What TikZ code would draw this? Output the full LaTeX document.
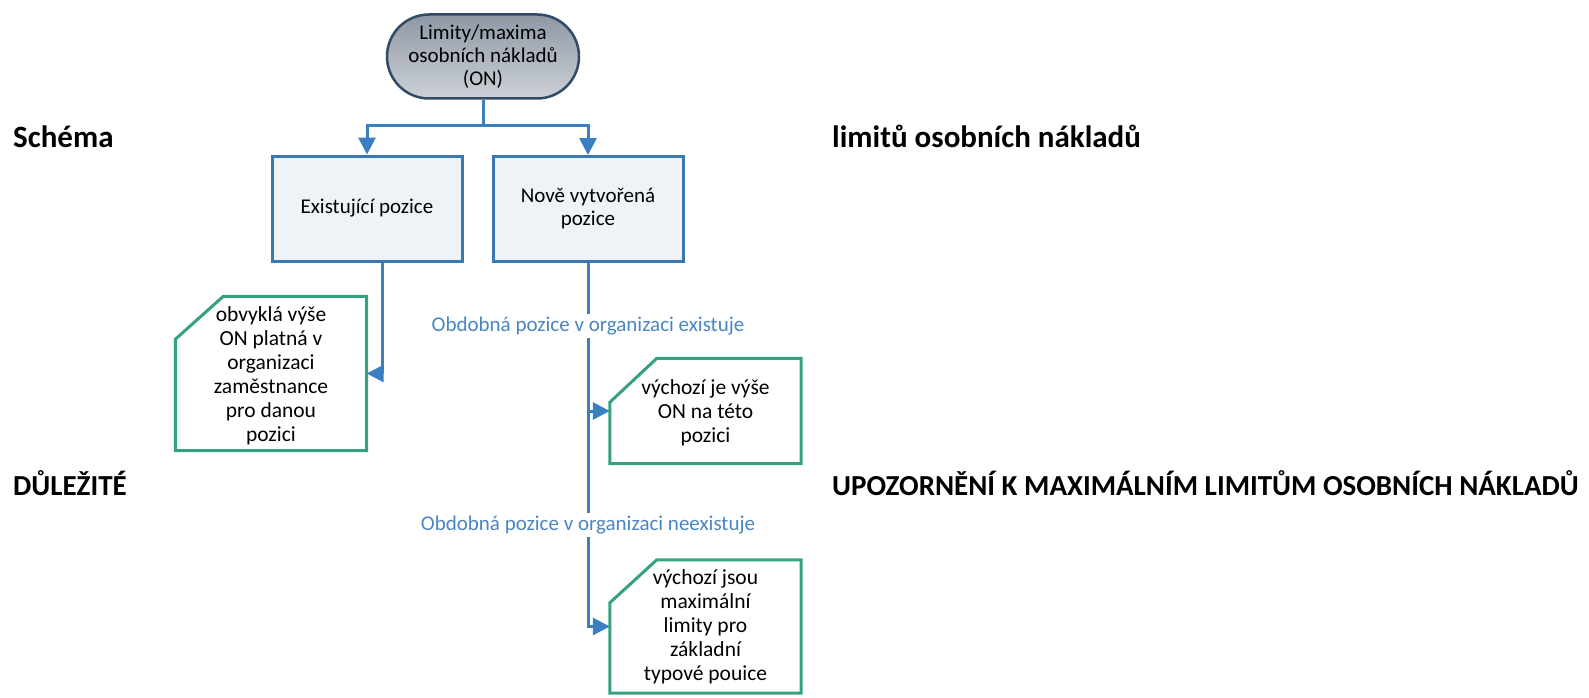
\documentclass[tikz,border=0pt]{standalone}
\usepackage{fontspec}
\setmainfont{Carlito}
\usetikzlibrary{arrows.meta,calc}
\definecolor{conn}{HTML}{3A7FC1}
\definecolor{boxbd}{HTML}{3C78B0}
\definecolor{boxfill}{HTML}{EFF3F8}
\definecolor{notebd}{HTML}{35A37A}
\definecolor{termbd}{HTML}{2F4B68}
\definecolor{labelc}{HTML}{4A86C4}
\definecolor{termtop}{HTML}{8E98A4}
\definecolor{termbot}{HTML}{CDD1D7}
\begin{document}
\begin{tikzpicture}[x=1pt,y=-1pt,
  term/.style={draw=termbd, line width=2.5pt, rounded corners=42pt,
    minimum width=192pt, minimum height=84pt, top color=termtop, bottom color=termbot,
    align=center, inner sep=0pt, font=\fontsize{21}{23}\selectfont},
  procbox/.style={draw=boxbd, fill=boxfill, line width=3pt, minimum width=190pt,
    minimum height=105pt, align=center, inner sep=0pt, font=\fontsize{21}{23}\selectfont},
  notebox/.style={minimum width=191pt, align=center, inner sep=0pt,
    font=\fontsize{21.5}{24}\selectfont},
  noteline/.style={draw=notebd, line width=3pt, fill=white, line join=miter},
  connline/.style={draw=conn, line width=3pt},
  arr/.style={connline, -{Triangle[width=17pt,length=17pt]}},
  lab/.style={fill=white, text=labelc, inner xsep=1pt, inner ysep=3pt,
    font=\fontsize{21}{23}\selectfont},
  head/.style={anchor=base west, inner sep=0pt, font=\fontsize{31}{35}\bfseries\selectfont},
  capshead/.style={head, font=\fontsize{29}{33}\bfseries\selectfont}
]
\useasboundingbox (0,0) rectangle (1589,698);

% headings
\node[head] (h1) at (13,147) {Schéma};
\node[head] (h2) at (832,147) {limitů osobních nákladů};
\node[capshead] (h3) at (13,495) {DŮLEŽITÉ};
\node[capshead] (h4) at (832,495) {UPOZORNĚNÍ K MAXIMÁLNÍM LIMITŮM OSOBNÍCH NÁKLADŮ};

% terminator
\node[term] (t) at (483,56.5) {Limity/maxima\\osobních nákladů\\(ON)};

% process boxes
\node[procbox] (b1) at (367,208.5) {Existující pozice};
\node[procbox] (b2) at (588,209) {Nově vytvořená\\pozice};

% notes (chamfered outlines)
\node[notebox, minimum height=154pt] (n1) at (271,373.5) {};
\draw[noteline] ([xshift=48pt]n1.north west) -- (n1.north east) -- (n1.south east)
  -- (n1.south west) -- ([yshift=-43pt]n1.north west) -- cycle;
\node[notebox] at ([yshift=-2pt]n1.center) {obvyklá výše\\ON platná v\\organizaci\\zaměstnance\\pro danou\\pozici};

\node[notebox, minimum height=105pt] (n2) at (705.5,411) {};
\draw[noteline] ([xshift=47pt]n2.north west) -- (n2.north east) -- (n2.south east)
  -- (n2.south west) -- ([yshift=-44pt]n2.north west) -- cycle;
\node[notebox] at ([yshift=-2pt]n2.center) {výchozí je výše\\ON na této\\pozici};

\node[notebox, minimum height=133pt] (n3) at (705.5,626.5) {};
\draw[noteline] ([xshift=47pt]n3.north west) -- (n3.north east) -- (n3.south east)
  -- (n3.south west) -- ([yshift=-43pt]n3.north west) -- cycle;
\node[notebox] at (n3.center) {výchozí jsou\\maximální\\limity pro\\základní\\typové pouice};

% connectors
\coordinate (br) at (t.south |- 0,126);
\draw[connline] (t.south) -- (br);
\draw[arr] (br) -| (b1.north);
\draw[arr] (br) -| (b2.north);
\draw[arr] ([xshift=15pt]b1.south) |- (n1.east);
\draw[arr] (b2.south) |- (n3.west);
\draw[arr] (b2.south |- n2.west) -- (n2.west);

% branch labels
\node[lab] (l1) at (b2.south |- 0,326) {Obdobná pozice v organizaci existuje};
\node[lab] (l2) at (b2.south |- 0,525) {Obdobná pozice v organizaci neexistuje};
\end{tikzpicture}
\end{document}
